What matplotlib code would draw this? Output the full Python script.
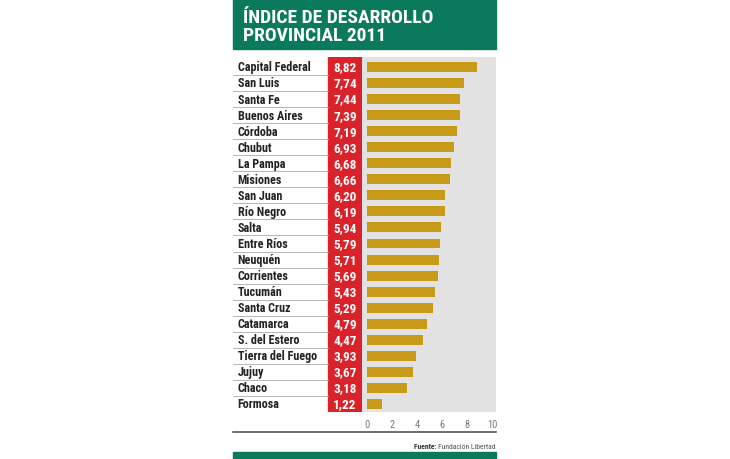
import matplotlib.pyplot as plt
from matplotlib.patches import Rectangle

provincias = ["Capital Federal", "San Luis", "Santa Fe", "Buenos Aires", "Córdoba",
              "Chubut", "La Pampa", "Misiones", "San Juan", "Río Negro", "Salta",
              "Entre Ríos", "Neuquén", "Corrientes", "Tucumán", "Santa Cruz",
              "Catamarca", "S. del Estero", "Tierra del Fuego", "Jujuy", "Chaco", "Formosa"]
indice = [8.82, 7.74, 7.44, 7.39, 7.19, 6.93, 6.68, 6.66, 6.20, 6.19, 5.94,
          5.79, 5.71, 5.69, 5.43, 5.29, 4.79, 4.47, 3.93, 3.67, 3.18, 1.22]
ticks = [0, 2, 4, 6, 8, 10]

VERDE = "#0b7a5c"
ROJO = "#d9222a"
DORADO = "#c99a17"
GRIS = "#e2e2e2"
FONT = ["Roboto Condensed", "Barlow Semi Condensed", "Roboto", "DejaVu Sans"]

W, H = 730, 460
fig = plt.figure(figsize=(7.3, 4.6), dpi=100)
fig.patch.set_facecolor("white")

def box(x0, y0, x1, y1):
    # pixel coords (top-left origin) -> figure fraction rect
    return [x0 / W, 1 - y1 / H, (x1 - x0) / W, (y1 - y0) / H]

# titulo
fig.patches.append(Rectangle((233 / W, 1 - 50 / H), 263 / W, 50 / H,
                             transform=fig.transFigure, color=VERDE, zorder=0))
fig.text(243 / W, 1 - 9 / H, "ÍNDICE DE DESARROLLO\nPROVINCIAL 2011", color="white",
         fontsize=14, fontweight="bold", family=FONT, va="top", ha="left",
         linespacing=1.02)

n = len(provincias)
ylim = (n - 0.5, -0.62)

# columna de nombres y valores
axl = fig.add_axes(box(233, 58, 362, 413))
axl.set_xlim(0, 1)
axl.set_ylim(*ylim)
axl.axis("off")
red_x0 = (328 - 233) / 129
axl.axvspan(red_x0, 1, color=ROJO, zorder=1)
for i, (p, v) in enumerate(zip(provincias, indice)):
    axl.text(0.035, i, p, va="center", ha="left", fontsize=8.7, fontweight="bold",
             color="#222222", family=FONT)
    axl.text((red_x0 + 1) / 2, i, f"{v:.2f}".replace(".", ","), va="center",
             ha="center", fontsize=9.5, fontweight="bold", color="white", family=FONT, zorder=3)
    if i < n - 1:
        axl.plot([0, red_x0], [i + 0.5, i + 0.5], color="#aaaaaa", lw=0.6)

# barras
ax = fig.add_axes(box(362, 58, 496, 413))
ax.set_facecolor(GRIS)
ax.barh(range(n), indice, height=0.62, color=DORADO, left=0)
ax.set_xlim(-0.4, 10.3)
ax.set_ylim(*ylim)
ax.set_yticks([])
ax.set_xticks(ticks)
ax.set_xticklabels([str(t) for t in ticks], fontsize=7.5, color="#777777", family=FONT)
ax.tick_params(axis="x", length=0, pad=5)
for s in ax.spines.values():
    s.set_visible(False)

# linea inferior, fuente y franja verde
fig.add_artist(plt.Line2D([233 / W, 496 / W], [1 - 433 / H, 1 - 433 / H],
                          transform=fig.transFigure, color="#555555", lw=1.2))
src = fig.text(496 / W, 1 - 447 / H, "Fundación Libertad", ha="right", va="center",
               fontsize=5.5, color="#555555", family=FONT)
fig.add_artist(plt.Annotation("Fuente: ", xy=(0, 0.5), xycoords=src, ha="right",
                              va="center", fontsize=5.5, fontweight="bold",
                              color="#333333", family=FONT))
fig.patches.append(Rectangle((233 / W, 0), 263 / W, 7 / H,
                             transform=fig.transFigure, color=VERDE, zorder=0))

fig.savefig("out.png", dpi=100)
